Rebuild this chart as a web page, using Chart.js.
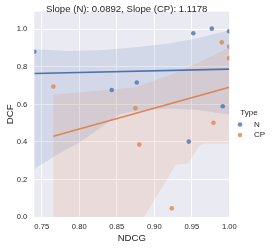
<!DOCTYPE html>
<html>
<head>
<meta charset="utf-8">
<script src="https://cdn.jsdelivr.net/npm/chart.js@4/dist/chart.umd.min.js"></script>
<style>
  html, body { margin: 0; padding: 0; background: #fff; }
  #c { display: block; }
</style>
</head>
<body>
<canvas id="c" width="272" height="248"></canvas>
<script>
// scatter points
const nX  = [0.7401, 0.8433, 0.8767, 0.9520, 0.9767, 0.9997, 0.9913, 0.9460];
const nY  = [0.881, 0.677, 0.717, 0.979, 1.004, 0.990, 0.590, 0.402];
const cpX = [0.7655, 0.8748, 0.8800, 0.9233, 0.9789, 0.9900, 0.9997, 0.9997];
const cpY = [0.695, 0.580, 0.386, 0.046, 0.502, 0.931, 0.908, 0.846];

// fitted lines (end points)
const nLineX  = [0.7401, 1.0];
const nLineY  = [0.765, 0.788];
const cpLineX = [0.7655, 1.0];
const cpLineY = [0.430, 0.692];

// confidence bands, upper and lower edges
const nUpX  = [0.7401, 0.7838, 0.8277, 0.8717, 0.9171, 0.9611, 1.0];
const nUpY  = [0.894, 0.885, 0.889, 0.903, 0.924, 0.956, 0.995];
const nLoX  = [0.7401, 0.7655, 0.801, 0.8544, 0.88, 0.92, 0.96, 1.0];
const nLoY  = [0.254, 0.321, 0.400, 0.549, 0.568, 0.578, 0.570, 0.545];
const cpUpX = [0.7655, 0.8755, 0.9362, 0.9629, 1.0];
const cpUpY = [0.652, 0.691, 0.779, 0.832, 0.903];
const cpLoX = [0.7655, 0.886, 0.9143, 0.9277, 0.9455, 0.9588, 0.9677, 1.0];
const cpLoY = [0.0, 0.0, 0.180, 0.277, 0.286, 0.374, 0.392, 0.392];

const xTicks = [0.75, 0.80, 0.85, 0.90, 0.95, 1.00];
const yTicks = [0.0, 0.2, 0.4, 0.6, 0.8, 1.0];

const titleText = "Slope (N): 0.0892, Slope (CP): 1.1178";
const seriesNames = ["N", "CP"];

const BLUE = "#4C72B0", ORANGE = "#DD8452";
const FONT = "'Liberation Sans', Arial, sans-serif";
const INK = "#262626";

function pts(xs, ys) { return xs.map((x, i) => ({ x: x, y: ys[i] })); }
// closed outline: upper edge left->right, lower edge right->left
function band(ux, uy, lx, ly) { return pts(ux, uy).concat(pts(lx, ly).reverse()); }

const bgPlugin = {
    id: "bg",
    beforeDraw(chart) {
        const a = chart.chartArea, ctx = chart.ctx;
        ctx.save();
        ctx.fillStyle = "#EAEAF2";
        ctx.fillRect(a.left, a.top, a.right - a.left, a.bottom - a.top);
        ctx.restore();
    }
};

const textPlugin = {
    id: "texts",
    afterDraw(chart) {
        const ctx = chart.ctx;
        ctx.save();
        ctx.fillStyle = INK;
        ctx.font = "9.6px " + FONT;
        ctx.textAlign = "center";
        ctx.textBaseline = "alphabetic";
        ctx.fillText(titleText, 126.7, 11.8);

        // legend
        ctx.font = "8px " + FONT;
        ctx.fillText("Type", 249, 114.5);
        ctx.textAlign = "left";
        ctx.textBaseline = "middle";
        const cols = ["rgba(76,114,176,0.8)", "rgba(221,132,82,0.8)"];
        const ys = [124.5, 135];
        seriesNames.forEach((name, i) => {
            ctx.fillStyle = cols[i];
            ctx.beginPath();
            ctx.arc(240, ys[i], 2.3, 0, Math.PI * 2);
            ctx.fill();
            ctx.fillStyle = INK;
            ctx.fillText(name, 254, ys[i]);
        });
        ctx.restore();
    }
};

new Chart(document.getElementById("c"), {
    type: "scatter",
    data: {
        datasets: [
            { type: "line", data: band(nUpX, nUpY, nLoX, nLoY), fill: "shape",
              backgroundColor: "rgba(76,114,176,0.15)", borderWidth: 0, pointRadius: 0, order: 4, clip: 0, tension: 0 },
            { type: "line", data: band(cpUpX, cpUpY, cpLoX, cpLoY), fill: "shape",
              backgroundColor: "rgba(221,132,82,0.15)", borderWidth: 0, pointRadius: 0, order: 3, clip: 0, tension: 0 },
            { type: "line", data: pts(nLineX, nLineY), borderColor: BLUE, borderWidth: 1.6,
              pointRadius: 0, fill: false, order: 2, clip: 0 },
            { type: "line", data: pts(cpLineX, cpLineY), borderColor: ORANGE, borderWidth: 1.6,
              pointRadius: 0, fill: false, order: 2, clip: 0 },
            { label: "N", data: pts(nX, nY), backgroundColor: "rgba(76,114,176,0.8)",
              borderWidth: 0, pointRadius: 2.3, order: 1, clip: 0 },
            { label: "CP", data: pts(cpX, cpY), backgroundColor: "rgba(221,132,82,0.8)",
              borderWidth: 0, pointRadius: 2.3, order: 1, clip: 0 }
        ]
    },
    options: {
        responsive: false,
        animation: false,
        devicePixelRatio: 1,
        layout: { padding: { left: 0, right: 42.7, top: 9.3, bottom: 0 } },
        plugins: { legend: { display: false }, title: { display: false }, tooltip: { enabled: false } },
        scales: {
            x: {
                type: "linear", min: 0.7401, max: 1.0,
                afterBuildTicks: s => { s.ticks = xTicks.map(v => ({ value: v })); },
                afterFit: s => { s.height = 31; },
                ticks: { callback: v => v.toFixed(2), color: INK, padding: 5,
                         font: { family: FONT, size: 7.6 }, maxRotation: 0, autoSkip: false },
                grid: { color: "#ffffff", lineWidth: 1, drawTicks: false },
                border: { display: false },
                title: { display: true, text: "NDCG", color: INK,
                         font: { family: FONT, size: 9.6 }, padding: { top: 0, bottom: 4.2 } }
            },
            y: {
                min: 0, max: 1.095,
                afterBuildTicks: s => { s.ticks = yTicks.map(v => ({ value: v })); },
                afterFit: s => { s.width = 34.3; },
                ticks: { callback: v => v.toFixed(1), color: INK, padding: 7,
                         font: { family: FONT, size: 7.6 }, autoSkip: false },
                grid: { color: "#ffffff", lineWidth: 1, drawTicks: false },
                border: { display: false },
                title: { display: true, text: "DCF", color: INK,
                         font: { family: FONT, size: 9.6 }, padding: { top: 4.2, bottom: 0 } }
            }
        }
    },
    plugins: [bgPlugin, textPlugin]
});
</script>
</body>
</html>
